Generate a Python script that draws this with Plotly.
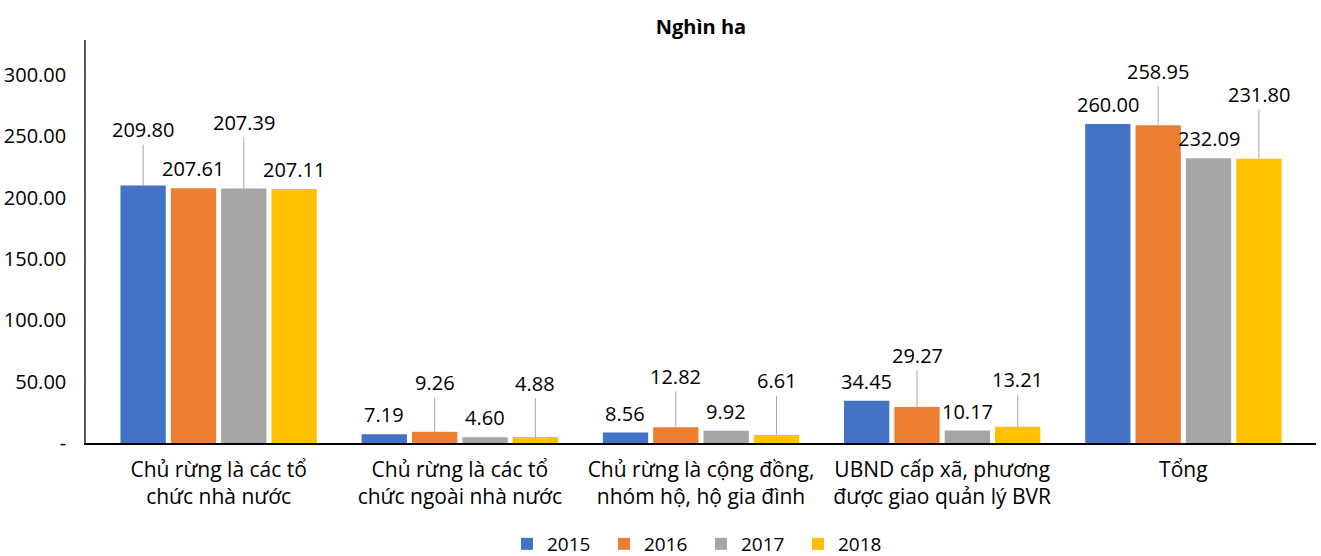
import plotly.graph_objects as go

categories = [
    "Chủ rừng là các tổ<br>chức nhà nước",
    "Chủ rừng là các tổ<br>chức ngoài nhà nước",
    "Chủ rừng là cộng đồng,<br>nhóm hộ, hộ gia đình",
    "UBND cấp xã, phương<br>được giao quản lý BVR",
    "Tổng",
]
years = ["2015", "2016", "2017", "2018"]
v2015 = [209.80, 7.19, 8.56, 34.45, 260.00]
v2016 = [207.61, 9.26, 12.82, 29.27, 258.95]
v2017 = [207.39, 4.60, 9.92, 10.17, 232.09]
v2018 = [207.11, 4.88, 6.61, 13.21, 231.80]
series = [v2015, v2016, v2017, v2018]

y_ticks = [0, 50, 100, 150, 200, 250, 300]
y_ticktext = ["-", "50.00", "100.00", "150.00", "200.00", "250.00", "300.00"]

colors = ["#4472C4", "#ED7D31", "#A5A5A5", "#FFC000"]

# label leader-line offsets in px (0 = label sits right on the bar)
leader = [
    [56, 0, 0, 0, 0],
    [0, 49, 51, 52, 54],
    [66, 0, 0, 0, 0],
    [0, 54, 54, 47, 64],
]

FONT = "Open Sans"
bargap = 0.165
bargroupgap = 0.1
slot = (1 - bargap) / len(years)

xpos = list(range(len(categories)))

fig = go.Figure()
for i, (yr, vals) in enumerate(zip(years, series)):
    fig.add_trace(go.Bar(
        name=yr, x=xpos, y=vals, marker_color=colors[i],
        marker_line_width=0,
    ))

annotations = []
for i, vals in enumerate(series):
    for j, v in enumerate(vals):
        x = j + (i - 1.5) * slot
        off = leader[i][j]
        if off:
            annotations.append(dict(
                x=x, y=v, xref="x", yref="y", text=f"{v:.2f}",
                showarrow=True, arrowhead=0, arrowwidth=1, arrowcolor="#A6A6A6",
                ax=0, ay=-off, standoff=0,
                font=dict(family=FONT, size=20, color="#000000"),
            ))
        else:
            annotations.append(dict(
                x=x, y=v, xref="x", yref="y", text=f"{v:.2f}",
                showarrow=False, yanchor="bottom", yshift=4,
                font=dict(family=FONT, size=20, color="#000000"),
            ))

fig.update_layout(
    width=1321, height=556,
    margin=dict(l=86, r=5, t=40, b=113, autoexpand=False),
    paper_bgcolor="white", plot_bgcolor="white",
    barmode="group", bargap=bargap, bargroupgap=bargroupgap,
    font=dict(family=FONT, size=20, color="#000000"),
    title=dict(text="<b>Nghìn ha</b>", x=0.5, xref="paper", y=1 - 27 / 556,
               yanchor="middle", xanchor="center",
               font=dict(family=FONT, size=20, color="#000000")),
    showlegend=True,
    legend=dict(orientation="h", x=0.5, xanchor="center", xref="paper",
                y=-101 / 403, yanchor="middle", yref="paper",
                font=dict(family=FONT, size=19, color="#000000"),
                entrywidth=52, entrywidthmode="pixels", traceorder="normal"),
    annotations=annotations,
)

fig.update_xaxes(
    range=[-0.55, 4.55], tickvals=xpos, ticktext=categories,
    showline=True, linecolor="#000000", linewidth=1.5,
    ticks="", showgrid=False, zeroline=False, automargin=False,
    tickfont=dict(family=FONT, size=21, color="#000000"),
    ticklabelstandoff=7,
)
fig.update_yaxes(
    range=[0, 328.5], tickvals=y_ticks, ticktext=y_ticktext,
    showline=True, linecolor="#595959", linewidth=1.5,
    ticks="", showgrid=False, zeroline=False, automargin=False,
    tickfont=dict(family=FONT, size=20, color="#000000"),
    ticklabelstandoff=14,
)

fig.write_html("out.html", config={"displayModeBar": False},
               post_script="document.body.style.margin='0';")
